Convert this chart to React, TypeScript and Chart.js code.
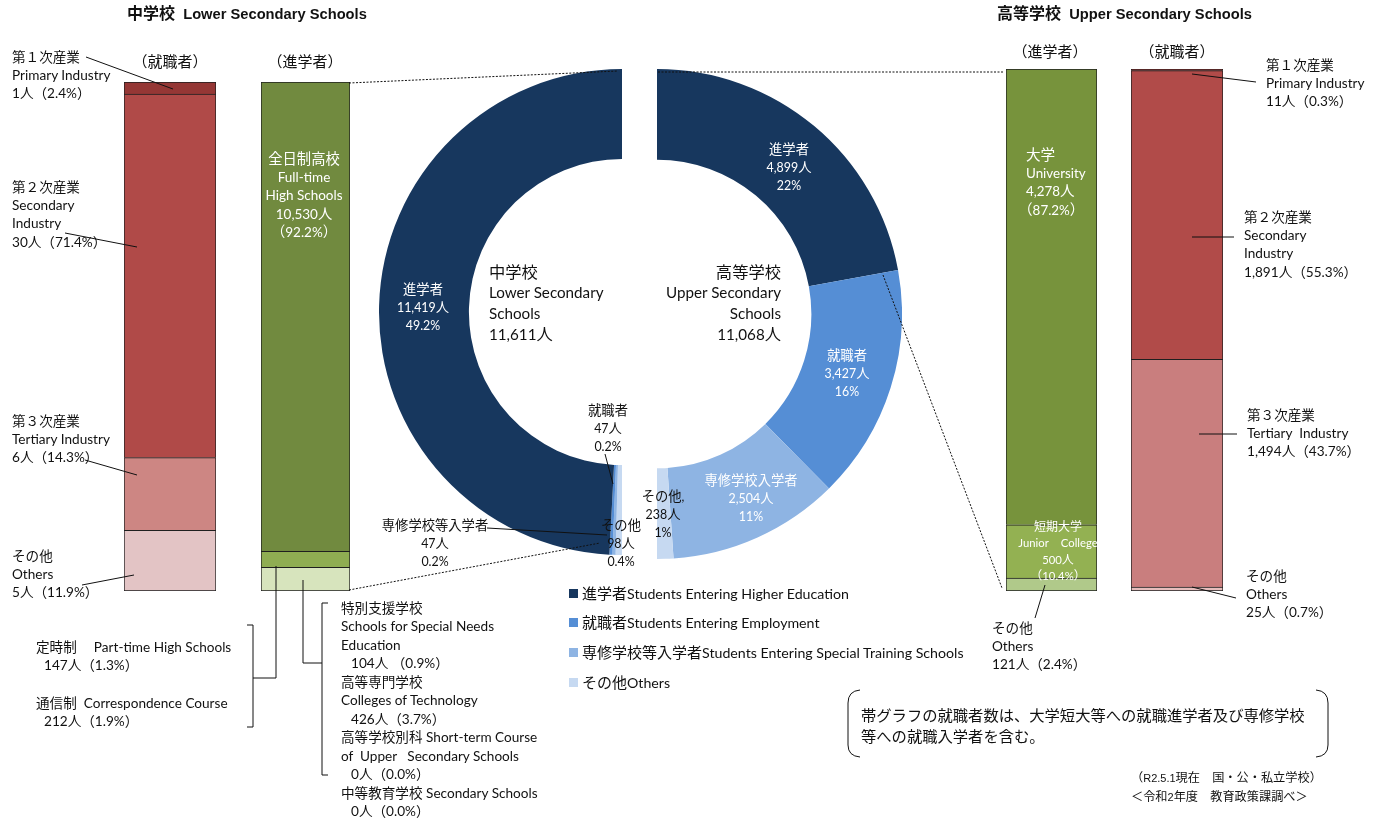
import React, { useEffect, useRef } from 'react';
import { Chart, registerables } from 'chart.js';

Chart.register(...registerables);

const W = 1379;
const H = 821;
const LATIN = 'Lato, "Noto Sans CJK JP", sans-serif';
const CJK = '"Noto Sans CJK JP", sans-serif';
const GOTHIC = '"Liberation Sans", Arial, "Noto Sans CJK JP", sans-serif';

// ---------------- data ----------------
const flowCategories = ['進学者', '就職者', '専修学校等入学者', 'その他'];
const flowEnglish = [
  'Students Entering Higher Education',
  'Students Entering Employment',
  'Students Entering Special Training Schools',
  'Others',
];
const flowColors = ['#17375E', '#558ED5', '#8EB4E3', '#C6D9F1'];
const lowerFlowValues = [11419, 47, 47, 98];
const lowerFlowPct = ['49.2%', '0.2%', '0.2%', '0.4%'];
const upperFlowValues = [4899, 3427, 2504, 238];
const upperFlowPct = ['22%', '16%', '11%', '1%'];
const upperFlowNames = ['進学者', '就職者', '専修学校入学者', 'その他,'];
const lowerTotal = 11611;
const upperTotal = 11068;

const industryCategories = ['第１次産業', '第２次産業', '第３次産業', 'その他'];
const lowerJobValues = [1, 30, 6, 5];
const lowerJobPct = ['2.4%', '71.4%', '14.3%', '11.9%'];
const upperJobValues = [11, 1891, 1494, 25];
const upperJobPct = ['0.3%', '55.3%', '43.7%', '0.7%'];
const lowerJobColors = ['#953735', '#B04A48', '#CD8683', '#E3C4C5'];
const upperJobColors = ['#8E302E', '#B14B49', '#C97E7E', '#E6BDBC'];

const lowerAdvCategories = ['全日制高校', '定時制', '通信制', '特別支援学校', '高等専門学校', '高等学校別科', '中等教育学校'];
const lowerAdvValues = [10530, 147, 212, 104, 426, 0, 0];
const lowerAdvPct = ['92.2%', '1.3%', '1.9%', '0.9%', '3.7%', '0.0%', '0.0%'];
const lowerAdvSegment = [0, 1, 1, 2, 2, 2, 2];
const lowerAdvColors = ['#718A3F', '#8FAD52', '#D7E4BD'];

const upperAdvCategories = ['大学', '短期大学', 'その他'];
const upperAdvValues = [4278, 500, 121];
const upperAdvPct = ['87.2%', '10.4%', '2.4%'];
const upperAdvColors = ['#77933C', '#93B152', '#B0C98A'];

// ---------------- helpers ----------------
const fmt = (n: number) => n.toLocaleString('en-US');
const sum = (a: number[]) => a.reduce((s, v) => s + v, 0);
const lowerAdvSegValues = lowerAdvColors.map((_, s) =>
  sum(lowerAdvValues.filter((_, i) => lowerAdvSegment[i] === s))
);

function barConfig(valuesTop: number[], colorsTop: string[], names: string[]): any {
  const total = sum(valuesTop);
  const order = valuesTop.map((_, i) => i).reverse();
  return {
    type: 'bar',
    data: {
      labels: [''],
      datasets: order.map((i, k) => ({
        label: names[i],
        data: [valuesTop[i]],
        backgroundColor: colorsTop[i],
        borderColor: '#1f1f1f',
        borderWidth: 1,
        borderSkipped: k === 0 ? false : 'start',
        barPercentage: 1,
        categoryPercentage: 1,
      })),
    },
    options: {
      responsive: false,
      animation: false,
      events: [],
      layout: { padding: 0 },
      plugins: { legend: { display: false }, tooltip: { enabled: false } },
      scales: {
        x: { stacked: true, display: false },
        y: { stacked: true, display: false, min: 0, max: total },
      },
    },
  };
}

function ringConfig(values: number[], colors: string[], names: string[], rotation: number): any {
  return {
    type: 'doughnut',
    data: { labels: names, datasets: [{ data: values, backgroundColor: colors, borderWidth: 0 }] },
    options: {
      responsive: false,
      animation: false,
      events: [],
      rotation,
      circumference: 180,
      cutout: '63%',
      plugins: { legend: { display: false }, tooltip: { enabled: false } },
    },
  };
}

function ChartBox({ left, top, width, height, config }: any) {
  const ref = useRef<HTMLCanvasElement>(null);
  useEffect(() => {
    const chart = new Chart(ref.current as HTMLCanvasElement, config);
    return () => chart.destroy();
  }, []);
  return (
    <div style={{ position: 'absolute', left, top, width, height }}>
      <canvas ref={ref} width={width} height={height} style={{ display: 'block' }} />
    </div>
  );
}

const CJK_RE = /[\u3000-\u30ff\u3400-\u9fff\uff00-\uffef]/;
function Mixed({ text, cjk, latin, latinFont }: any) {
  const runs: [string, boolean][] = [];
  let cur = '';
  let curC: boolean | null = null;
  for (const ch of text) {
    const c = CJK_RE.test(ch);
    if (curC === null || c === curC) {
      cur += ch;
      curC = c;
    } else {
      runs.push([cur, curC]);
      cur = ch;
      curC = c;
    }
  }
  if (cur) runs.push([cur, !!curC]);
  return (
    <>
      {runs.map(([t, c], i) => (
        <span key={i} style={{ fontFamily: c ? CJK : latinFont, fontSize: c ? cjk : latin, lineHeight: 1 }}>
          {t}
        </span>
      ))}
    </>
  );
}

type Line = string | [string, number];
type LabelSpec = {
  x: number;
  y: number;
  lines: Line[];
  align?: 'left' | 'center' | 'right';
  color?: string;
  cjk?: number;
  latin?: number;
  lh?: number;
  font?: string;
  bold?: boolean;
};

function Label({ x, y, lines, align = 'left', color = '#111', cjk = 13.6, latin = 13.6, lh = 18.3, font = LATIN, bold = false }: LabelSpec) {
  const style: any = {
    position: 'absolute',
    top: y - lh / 2,
    lineHeight: lh + 'px',
    color,
    fontFamily: font,
    fontSize: latin,
    fontWeight: bold ? 700 : 400,
    whiteSpace: 'pre',
    textAlign: align,
  };
  if (align === 'left') style.left = x;
  else if (align === 'right') style.right = W - x;
  else {
    style.left = x;
    style.transform = 'translateX(-50%)';
  }
  return (
    <div style={style}>
      {lines.map((l, i) => {
        const t = typeof l === 'string' ? l : l[0];
        const dx = typeof l === 'string' ? 0 : l[1];
        return (
          <div key={i} style={{ height: lh, position: 'relative', left: dx }}>
            <Mixed text={t} cjk={cjk} latin={latin} latinFont={font} />
          </div>
        );
      })}
    </div>
  );
}

const amt = (v: number, p: string) => `${fmt(v)}人（${p}）`;

// ---------------- layout of annotations ----------------
const labels: LabelSpec[] = [
  // titles
  { x: 127, y: 14, lines: ['中学校  Lower Secondary Schools'], cjk: 16, latin: 14.7, font: GOTHIC, bold: true, lh: 20 },
  { x: 997, y: 14, lines: ['高等学校  Upper Secondary Schools'], cjk: 16, latin: 14.7, font: GOTHIC, bold: true, lh: 20 },
  // headers
  { x: 170, y: 62, lines: ['（就職者）'], align: 'center', cjk: 15 },
  { x: 305, y: 62, lines: ['（進学者）'], align: 'center', cjk: 15 },
  { x: 1050, y: 52, lines: ['（進学者）'], align: 'center', cjk: 15 },
  { x: 1177, y: 52, lines: ['（就職者）'], align: 'center', cjk: 15 },
  // lower employment industries
  { x: 12, y: 57, lines: [industryCategories[0], 'Primary Industry', amt(lowerJobValues[0], lowerJobPct[0])] },
  { x: 12, y: 187, lines: [industryCategories[1], 'Secondary', 'Industry', amt(lowerJobValues[1], lowerJobPct[1])] },
  { x: 12, y: 421, lines: [industryCategories[2], 'Tertiary Industry', amt(lowerJobValues[2], lowerJobPct[2])] },
  { x: 12, y: 556, lines: [industryCategories[3], 'Others', amt(lowerJobValues[3], lowerJobPct[3])] },
  // lower advancement bar inner text
  {
    x: 304, y: 159, align: 'center', color: '#fff', cjk: 14.3, latin: 13.5,
    lines: [lowerAdvCategories[0], 'Full-time', 'High Schools', `${fmt(lowerAdvValues[0])}人`, `（${lowerAdvPct[0]}）`],
  },
  // part-time / correspondence
  { x: 36, y: 647, lines: [`${lowerAdvCategories[1]}　 Part-time High Schools`] },
  { x: 44, y: 665, lines: [amt(lowerAdvValues[1], lowerAdvPct[1])] },
  { x: 36, y: 703, lines: [`${lowerAdvCategories[2]}  Correspondence Course`] },
  { x: 44, y: 721, lines: [amt(lowerAdvValues[2], lowerAdvPct[2])] },
  {
    x: 341, y: 608, lh: 18.5,
    lines: [
      lowerAdvCategories[3], 'Schools for Special Needs', 'Education', [`${fmt(lowerAdvValues[3])}人 （${lowerAdvPct[3]}）`, 10],
      lowerAdvCategories[4], 'Colleges of Technology', [amt(lowerAdvValues[4], lowerAdvPct[4]), 10],
      `${lowerAdvCategories[5]} Short-term Course`, 'of  Upper   Secondary Schools', [amt(lowerAdvValues[5], lowerAdvPct[5]), 10],
      `${lowerAdvCategories[6]} Secondary Schools`, [amt(lowerAdvValues[6], lowerAdvPct[6]), 10],
    ],
  },
  // ring labels (white)
  { x: 423, y: 290, align: 'center', color: '#fff', cjk: 13.3, latin: 12.4, lh: 18, lines: [flowCategories[0], `${fmt(lowerFlowValues[0])}人`, lowerFlowPct[0]] },
  { x: 789, y: 150, align: 'center', color: '#fff', cjk: 13.3, latin: 12.4, lh: 18, lines: [upperFlowNames[0], `${fmt(upperFlowValues[0])}人`, upperFlowPct[0]] },
  { x: 847, y: 356, align: 'center', color: '#fff', cjk: 13.3, latin: 12.4, lh: 18, lines: [upperFlowNames[1], `${fmt(upperFlowValues[1])}人`, upperFlowPct[1]] },
  { x: 751, y: 481, align: 'center', color: '#fff', cjk: 13.3, latin: 12.4, lh: 18, lines: [upperFlowNames[2], `${fmt(upperFlowValues[2])}人`, upperFlowPct[2]] },
  // ring labels (black)
  { x: 663, y: 497, align: 'center', cjk: 13.3, latin: 12.4, lh: 18, lines: [upperFlowNames[3], `${fmt(upperFlowValues[3])}人`, upperFlowPct[3]] },
  { x: 608, y: 411, align: 'center', cjk: 13.3, latin: 12.4, lh: 18, lines: [flowCategories[1], `${fmt(lowerFlowValues[1])}人`, lowerFlowPct[1]] },
  { x: 435, y: 526, align: 'center', cjk: 13.3, latin: 12.4, lh: 18, lines: [flowCategories[2], `${fmt(lowerFlowValues[2])}人`, lowerFlowPct[2]] },
  { x: 621, y: 526, align: 'center', cjk: 13.3, latin: 12.4, lh: 18, lines: [flowCategories[3], `${fmt(lowerFlowValues[3])}人`, lowerFlowPct[3]] },
  // ring centre texts
  { x: 489, y: 272, cjk: 16.3, latin: 15.2, lh: 20.8, lines: ['中学校', 'Lower Secondary', 'Schools', `${fmt(lowerTotal)}人`] },
  { x: 781, y: 272, align: 'right', cjk: 16.3, latin: 15.2, lh: 20.8, lines: ['高等学校', 'Upper Secondary', 'Schools', `${fmt(upperTotal)}人`] },
  // upper advancement bar
  {
    x: 1026, y: 155, color: '#fff', cjk: 14.6, latin: 13.4,
    lines: [upperAdvCategories[0], 'University', `${fmt(upperAdvValues[0])}人`, [`（${upperAdvPct[0]}）`, -8]],
  },
  {
    x: 1058, y: 527, align: 'center', color: '#fff', cjk: 12, latin: 11.3, lh: 16.5,
    lines: [upperAdvCategories[1], 'Junior　College', `${fmt(upperAdvValues[1])}人`, `（${upperAdvPct[1]}）`],
  },
  { x: 992, y: 628, lines: [upperAdvCategories[2], 'Others', amt(upperAdvValues[2], upperAdvPct[2])] },
  // upper employment industries
  { x: 1266, y: 65, lines: [industryCategories[0], 'Primary Industry', amt(upperJobValues[0], upperJobPct[0])] },
  { x: 1244, y: 217, lines: [industryCategories[1], 'Secondary', 'Industry', amt(upperJobValues[1], upperJobPct[1])] },
  { x: 1247, y: 415, lines: [industryCategories[2], 'Tertiary  Industry', amt(upperJobValues[2], upperJobPct[2])] },
  { x: 1246, y: 576, lines: [industryCategories[3], 'Others', amt(upperJobValues[3], upperJobPct[3])] },
  // note
  {
    x: 861, y: 716, cjk: 15.3, latin: 14, lh: 21, font: GOTHIC,
    lines: ['帯グラフの就職者数は、大学短大等への就職進学者及び専修学校', '等への就職入学者を含む。'],
  },
  { x: 1131, y: 778, cjk: 12.2, latin: 11, lh: 19, font: GOTHIC, lines: ['（R2.5.1現在　国・公・私立学校）', '＜令和2年度　教育政策課調べ＞'] },
];

const legendY = [594, 623, 653, 683];

const solidLines = [
  [86, 57, 173, 89], [65, 233, 137, 247], [85, 460, 137, 475], [82, 585, 134, 575],
  [276, 566, 276, 678], [253, 678, 276, 678], [303, 580, 303, 663], [303, 663, 322, 663],
  [605, 454, 613, 484], [487, 528, 607, 535],
  [1045, 585, 1035, 618], [1192, 74, 1256, 82], [1192, 237, 1234, 237], [1199, 434, 1237, 434], [1192, 587, 1236, 598],
];
const dottedLines = [
  [349, 83, 618, 71], [349, 590, 600, 543], [658, 72, 1004, 72], [883, 275, 1002, 588],
];
const bracketPaths = [
  'M247 625 L253 625 L253 727 L247 727',
  'M328 603 L322 603 L322 775 L328 775',
  'M860 690 Q848 691 848 703 L848 745 Q848 756 860 757',
  'M1316 690 Q1328 691 1328 703 L1328 745 Q1328 756 1316 757',
];

export default function App() {
  return (
    <div style={{ position: 'absolute', left: 0, top: 0, width: W, height: H, background: '#fff', overflow: 'hidden' }}>
      {/* stacked bars */}
      <ChartBox left={124} top={82} width={92} height={509} config={barConfig(lowerJobValues, lowerJobColors, industryCategories)} />
      <ChartBox left={261} top={82} width={89} height={509} config={barConfig(lowerAdvSegValues, lowerAdvColors, ['全日制', '定時制・通信制', '特別支援学校等'])} />
      <ChartBox left={1006} top={69} width={91} height={522} config={barConfig(upperAdvValues, upperAdvColors, upperAdvCategories)} />
      <ChartBox left={1131} top={69} width={92} height={522} config={barConfig(upperJobValues, upperJobColors, industryCategories)} />
      {/* half rings */}
      <ChartBox
        left={379} top={69} width={243} height={486}
        config={ringConfig([...lowerFlowValues].reverse(), [...flowColors].reverse(), [...flowCategories].reverse(), 180)}
      />
      <ChartBox left={657} top={69} width={245} height={490} config={ringConfig(upperFlowValues, flowColors, flowCategories, 0)} />

      <svg width={W} height={H} style={{ position: 'absolute', left: 0, top: 0, pointerEvents: 'none' }}>
        {solidLines.map(([x1, y1, x2, y2], i) => (
          <line key={'s' + i} x1={x1} y1={y1} x2={x2} y2={y2} stroke="#111" strokeWidth={1} />
        ))}
        {dottedLines.map(([x1, y1, x2, y2], i) => (
          <line key={'d' + i} x1={x1} y1={y1} x2={x2} y2={y2} stroke="#111" strokeWidth={1} strokeDasharray="2 1.5" />
        ))}
        {bracketPaths.map((d, i) => (
          <path key={'b' + i} d={d} fill="none" stroke="#111" strokeWidth={1} />
        ))}
      </svg>

      {/* legend */}
      {flowCategories.map((c, i) => (
        <React.Fragment key={'lg' + i}>
          <div style={{ position: 'absolute', left: 569, top: legendY[i] - 5, width: 9, height: 9, background: flowColors[i] }} />
          <Label x={582} y={legendY[i]} lines={[c + flowEnglish[i]]} cjk={15} latin={14.2} lh={20} />
        </React.Fragment>
      ))}

      {labels.map((l, i) => (
        <Label key={'l' + i} {...l} />
      ))}
    </div>
  );
}
